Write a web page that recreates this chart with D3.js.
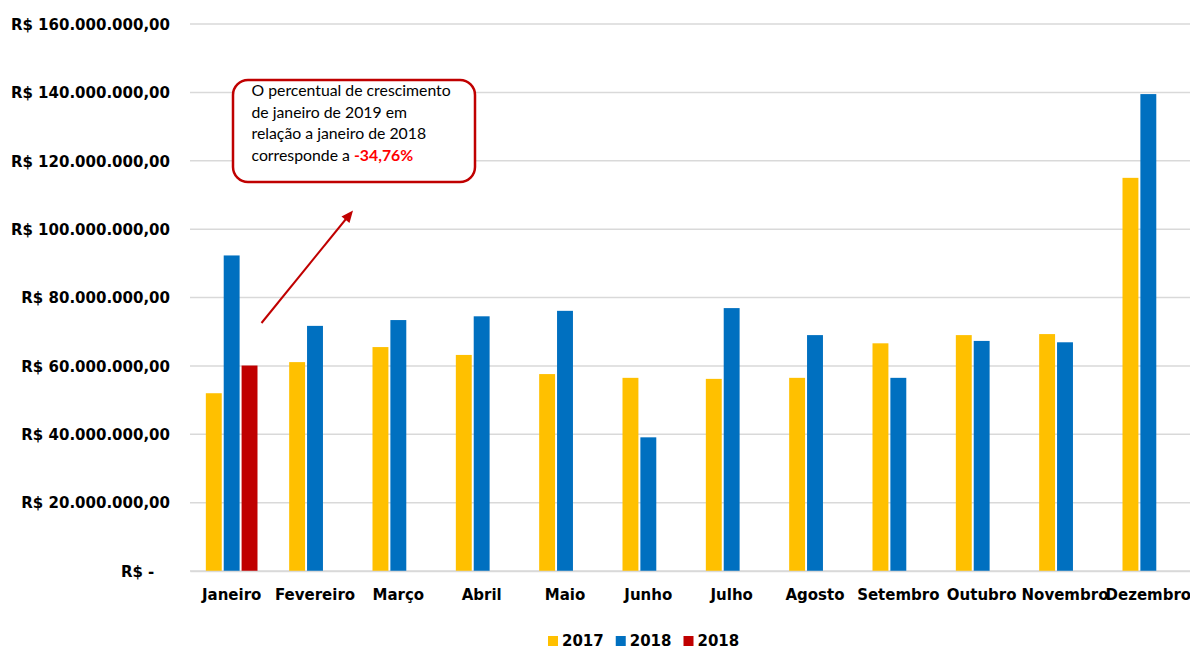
<!DOCTYPE html>
<html>
<head>
<meta charset="utf-8">
<script src="https://cdn.jsdelivr.net/npm/d3@7"></script>
<style>
  body { margin: 0; background: #fff; }
  svg { display: block; }
  .lbl { font-family: "DejaVu Sans", sans-serif; font-weight: bold; font-size: 15px; fill: #000; }
  .note { font-family: Lato, sans-serif; font-size: 15.8px; fill: #000; }
</style>
</head>
<body>
<svg></svg>
<script>
let months = ['Janeiro', 'Fevereiro', 'Março', 'Abril', 'Maio', 'Junho', 'Julho', 'Agosto', 'Setembro', 'Outubro', 'Novembro', 'Dezembro']
let seriesNames = ['2017', '2018', '2018']
let colors = ['#FFC000', '#0070C0', '#C00000']

// valores em R$
let values2017 = [52.0e6, 61.1e6, 65.5e6, 63.2e6, 57.6e6, 56.5e6, 56.2e6, 56.5e6, 66.6e6, 69.0e6, 69.3e6, 115.0e6]
let values2018 = [92.3e6, 71.7e6, 73.4e6, 74.5e6, 76.1e6, 39.1e6, 76.9e6, 69.0e6, 56.5e6, 67.3e6, 66.9e6, 139.5e6]
let values2019 = [60.1e6, null, null, null, null, null, null, null, null, null, null, null]

let yTicks = [0, 20e6, 40e6, 60e6, 80e6, 100e6, 120e6, 140e6, 160e6]

let noteLines = ['O percentual de crescimento', 'de janeiro de 2019  em', 'relação a janeiro de 2018', 'corresponde a ']
let noteValue = '-34,76%'

let width = 1190
let height = 649
let plotLeft = 190
let plotRight = 1190
let plotTop = 24
let plotBottom = 571

let svg = d3.select('svg').attr('width', width).attr('height', height)

let allSeries = [values2017, values2018, values2019]

let xScale = d3.scaleBand().domain(months).range([plotLeft, plotRight])
let xInner = d3.scaleBand().domain([0, 1, 2])
               .range([xScale.bandwidth() * 0.19, xScale.bandwidth() * 0.81])
               .paddingInner(0.11)
let yScale = d3.scaleLinear().domain([0, 160e6]).range([plotBottom, plotTop])

let fmt = d => {
    if (d === 0) return 'R$ -\u00a0\u00a0\u00a0'
    return 'R$ ' + d3.format(',.2f')(d).replace(/,/g, '#').replace('.', ',').replace(/#/g, '.')
}

// grade
svg.append('g')
   .selectAll('line')
   .data(yTicks)
   .enter()
   .append('line')
   .attr('x1', plotLeft)
   .attr('x2', plotRight)
   .attr('y1', d => yScale(d))
   .attr('y2', d => yScale(d))
   .attr('stroke', '#d9d9d9')
   .attr('stroke-width', 1.5)

// eixo y
let yAxis = d3.axisLeft(yScale).tickValues(yTicks).tickFormat(fmt).tickSize(0).tickPadding(20)
let gy = svg.append('g').attr('transform', 'translate(' + plotLeft + ',0)').call(yAxis)
gy.select('.domain').remove()
gy.selectAll('text').attr('class', 'lbl').attr('dy', '0.35em')

// barras
let groups = svg.append('g')
allSeries.forEach((vals, si) => {
    groups.append('g')
          .selectAll('rect')
          .data(vals.map((v, i) => ({ m: months[i], v: v })).filter(d => d.v != null))
          .enter()
          .append('rect')
          .attr('x', d => xScale(d.m) + xInner(si))
          .attr('width', xInner.bandwidth())
          .attr('y', d => yScale(d.v))
          .attr('height', d => yScale(0) - yScale(d.v))
          .attr('fill', colors[si])
})

// eixo x
let xAxis = d3.axisBottom(xScale).tickSize(0).tickPadding(18)
let gx = svg.append('g').attr('transform', 'translate(0,' + plotBottom + ')').call(xAxis)
gx.select('.domain').attr('stroke', '#d9d9d9').attr('stroke-width', 1.5)
gx.selectAll('text').attr('class', 'lbl')

// legenda
let legend = svg.append('g').attr('transform', 'translate(548,641)')
let lx = 0
seriesNames.forEach((name, i) => {
    legend.append('rect').attr('x', lx).attr('y', -5).attr('width', 10).attr('height', 10).attr('fill', colors[i])
    let t = legend.append('text').attr('class', 'lbl').attr('x', lx + 14).attr('dy', '0.35em').text(name)
    lx += 14 + t.node().getComputedTextLength() + 12
})

// anotação
svg.append('line')
   .attr('x1', 261.5).attr('y1', 323)
   .attr('x2', 348).attr('y2', 216.5)
   .attr('stroke', '#C00000').attr('stroke-width', 2)
svg.append('path')
   .attr('d', 'M353,210.5 L341.5,216.5 L349.5,223 Z')
   .attr('fill', '#C00000')

svg.append('rect')
   .attr('x', 233).attr('y', 80)
   .attr('width', 242).attr('height', 102)
   .attr('rx', 15)
   .attr('fill', '#fff')
   .attr('stroke', '#C00000')
   .attr('stroke-width', 2.5)

let note = svg.append('text').attr('class', 'note')
noteLines.forEach((line, i) => {
    note.append('tspan').attr('x', 251.5).attr('y', 96 + i * 21.5).text(line)
    if (i === noteLines.length - 1) {
        note.append('tspan').attr('fill', '#FF0000').attr('font-weight', 'bold').text(noteValue)
    }
})
</script>
</body>
</html>
